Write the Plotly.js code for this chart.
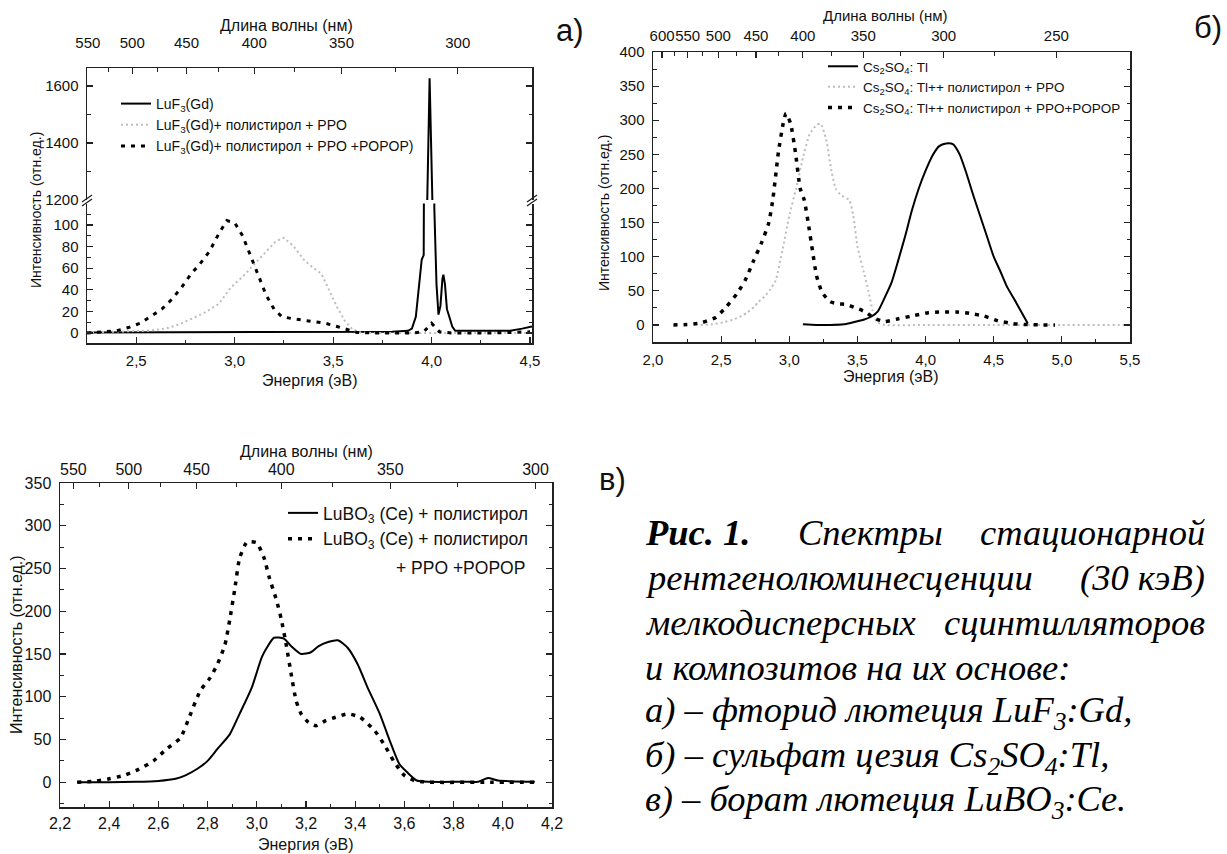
<!DOCTYPE html>
<html>
<head>
<meta charset="utf-8">
<script src="https://cdn.plot.ly/plotly-3.0.1.min.js"></script>
<style>
  html, body { margin: 0; padding: 0; background: #fff; }
  #chart { width: 1227px; height: 854px; }
</style>
</head>
<body>
<div id="chart"></div>
<script>
// ---------- Panel а: LuF3:Gd ----------
const eA_LuF3 = [2.25, 2.50, 3.00, 3.50, 3.80, 3.88, 3.90, 3.92, 3.94, 3.95, 3.96, 3.969, 3.978, 3.990, 4.004, 4.014, 4.025, 4.035, 4.045, 4.055, 4.060, 4.068, 4.078, 4.090, 4.105, 4.120, 4.30, 4.40, 4.46, 4.51];
const iA_LuF3 = [0.5, 0.5, 0.8, 0.8, 1, 2, 4, 15, 55, 68, 72, 115, 1200, 1627, 1200, 115, 45, 17, 25, 50, 54, 45, 22, 15, 6, 2, 2, 2, 4, 6];

const eA_PPO = [2.25, 2.40, 2.55, 2.65, 2.72, 2.78, 2.85, 2.92, 2.98, 3.04, 3.10, 3.16, 3.21, 3.25, 3.30, 3.35, 3.40, 3.44, 3.48, 3.52, 3.56, 3.60, 3.64, 3.70, 4.00, 4.50];
const iA_PPO = [0.5, 1, 2, 4, 8, 13, 19, 27, 42, 52, 64, 76, 85, 88, 80, 68, 60, 55, 40, 24, 11, 3, 0.5, 0, 0, 0];

const eA_POPOP = [2.25, 2.30, 2.40, 2.46, 2.52, 2.58, 2.63, 2.68, 2.73, 2.78, 2.82, 2.87, 2.92, 2.96, 3.00, 3.04, 3.08, 3.12, 3.16, 3.20, 3.24, 3.30, 3.38, 3.46, 3.52, 3.57, 3.62, 3.70, 3.90, 3.96, 4.00, 4.04, 4.10, 4.30, 4.50];
const iA_POPOP = [0, 0.5, 2, 5, 9, 16, 22, 31, 42, 55, 63, 75, 92, 104, 102, 90, 72, 53, 35, 22, 15, 13, 11, 9, 6, 3, 0.5, 0, 0, 1, 9, 1, 0, 0, 1];

// ---------- Panel б: Cs2SO4:Tl ----------
const eB_Tl = [3.10, 3.20, 3.30, 3.40, 3.47, 3.55, 3.60, 3.65, 3.70, 3.75, 3.80, 3.85, 3.90, 3.95, 4.00, 4.05, 4.10, 4.15, 4.20, 4.25, 4.30, 4.35, 4.40, 4.45, 4.50, 4.55, 4.60, 4.65, 4.70, 4.75];
const iB_Tl = [1, 0, 0, 1, 4, 8, 12, 20, 40, 62, 95, 130, 168, 200, 226, 248, 262, 266, 265, 250, 222, 190, 160, 130, 100, 78, 55, 38, 20, 2];

const eB_PPO = [2.35, 2.44, 2.52, 2.59, 2.65, 2.69, 2.74, 2.77, 2.82, 2.86, 2.90, 2.95, 3.00, 3.05, 3.10, 3.15, 3.20, 3.23, 3.27, 3.31, 3.34, 3.38, 3.44, 3.47, 3.50, 3.55, 3.58, 3.61, 3.64, 3.70, 4.00, 4.50, 5.00, 5.50];
const iB_PPO = [0, 1, 4, 8, 13, 18, 26, 33, 42, 52, 65, 110, 160, 200, 245, 280, 293, 295, 272, 225, 200, 190, 183, 160, 115, 75, 50, 22, 5, 0, 0, 0, 0, 0];

const eB_POPOP = [2.15, 2.25, 2.35, 2.46, 2.54, 2.62, 2.68, 2.74, 2.80, 2.85, 2.88, 2.92, 2.955, 2.976, 3.01, 3.045, 3.08, 3.11, 3.14, 3.17, 3.20, 3.24, 3.30, 3.36, 3.42, 3.50, 3.56, 3.62, 3.70, 3.80, 3.92, 4.02, 4.12, 4.23, 4.32, 4.43, 4.53, 4.64, 4.75, 4.85, 4.95];
const iB_POPOP = [0, 0.5, 3, 11, 27, 47, 67, 95, 122, 150, 185, 253, 295, 310, 295, 253, 200, 183, 148, 109, 72, 48, 34, 31, 30, 24, 19, 10, 5, 9, 14, 18, 19, 19, 17, 13, 6, 2, 0.5, 0, 0];

// ---------- Panel в: LuBO3:Ce ----------
const eC_PS = [2.27, 2.40, 2.51, 2.60, 2.67, 2.71, 2.76, 2.80, 2.84, 2.89, 2.93, 2.98, 3.02, 3.04, 3.07, 3.11, 3.14, 3.18, 3.22, 3.25, 3.29, 3.33, 3.37, 3.41, 3.45, 3.50, 3.54, 3.58, 3.61, 3.65, 3.70, 3.84, 3.90, 3.94, 3.98, 4.13];
const iC_PS = [0, 0, 0.4, 1.5, 4, 8, 16, 25, 39, 56, 80, 111, 146, 157, 169, 168, 159, 150, 152, 159, 164, 166, 157, 138, 111, 80, 49, 21, 12, 2, 0.5, 0.5, 0.5, 5, 2, 0.5];

const eC_POPOP = [2.27, 2.34, 2.40, 2.46, 2.52, 2.58, 2.63, 2.69, 2.72, 2.77, 2.81, 2.84, 2.87, 2.89, 2.91, 2.93, 2.96, 3.00, 3.03, 3.05, 3.08, 3.10, 3.12, 3.14, 3.16, 3.18, 3.21, 3.24, 3.28, 3.32, 3.37, 3.42, 3.48, 3.52, 3.56, 3.60, 3.64, 3.70, 3.95, 4.13];
const iC_POPOP = [0, 1, 4, 8, 15, 25, 38, 52, 72, 107, 122, 138, 160, 190, 225, 262, 281, 280, 262, 240, 213, 190, 160, 126, 95, 80, 70, 66, 72, 76, 80, 76, 60, 43, 23, 8, 2, 0, 0, 0];

// Wavelength scale (top axes), nm
const nmA = [550, 500, 450, 400, 350, 300];
const nmA_minor = [525, 475, 425, 375, 325];
const nmB = [600, 550, 500, 450, 400, 350, 300, 250];
const nmB_minor = [575, 525, 475, 425, 375, 325, 275];
const nmC = [550, 500, 450, 400, 350, 300];
const nmC_minor = [525, 475, 425, 375, 325];

// Legend names
const namesA = ['LuF<sub>3</sub>(Gd)', 'LuF<sub>3</sub>(Gd)+ полистирол + PPO', 'LuF<sub>3</sub>(Gd)+ полистирол + PPO +POPOP)'];
const namesB = ['Cs<sub>2</sub>SO<sub>4</sub>: Tl', 'Cs<sub>2</sub>SO<sub>4</sub>: Tl++ полистирол + PPO', 'Cs<sub>2</sub>SO<sub>4</sub>: Tl++ полистирол + PPO+POPOP'];
const namesC = ['LuBO<sub>3</sub> (Ce) + полистирол', 'LuBO<sub>3</sub> (Ce) + полистирол'];

// ---------- helpers ----------
const W = 1227, H = 854;
const HC = 1239.84;               // eV·nm
const SANS = '"Liberation Sans", Arial, sans-serif';
const SERIF = '"Liberation Serif", "Times New Roman", serif';
const px = v => v / W;
const py = v => 1 - v / H;
const toEV = arr => arr.map(l => HC / l);

const SOLID = { color: '#000', width: 2 };
const GREY = { color: '#bdbdbd', width: 2, dash: '2px,3px' };
const DASH = { color: '#000', width: 3.5, dash: '4px,6px' };

function bottomAxis(dom, anchor, range, dtick, minorDtick, size, standoff) {
  return {
    domain: dom, anchor: anchor, range: range, dtick: dtick, tick0: 0,
    tickformat: '.1f', showline: true, linecolor: '#222', linewidth: 1.5,
    ticks: 'inside', ticklen: 6, tickwidth: 1.2, tickcolor: '#222',
    minor: { dtick: minorDtick, tick0: 0, ticks: 'inside', ticklen: 3.5, tickwidth: 1, tickcolor: '#222' },
    showgrid: false, zeroline: false, mirror: false, fixedrange: true,
    tickfont: { family: SANS, size: size, color: '#111' }, ticklabelstandoff: standoff
  };
}
function topAxis(extra, nm, nmMinor, range, size, standoff) {
  return Object.assign({
    side: 'top', range: range, tickmode: 'array', tickangle: 0,
    tickvals: toEV(nm), ticktext: nm.map(String),
    showline: true, linecolor: '#222', linewidth: 1.5,
    ticks: 'inside', ticklen: 6, tickwidth: 1.2, tickcolor: '#222',
    minor: { tickmode: 'array', tickvals: toEV(nmMinor), ticks: 'inside', ticklen: 3.5, tickwidth: 1, tickcolor: '#222' },
    showgrid: false, zeroline: false, fixedrange: true,
    tickfont: { family: SANS, size: size, color: '#111' }, ticklabelstandoff: standoff
  }, extra);
}
function leftAxis(dom, anchor, range, dtick, minorDtick, size) {
  return {
    domain: dom, anchor: anchor, range: range, dtick: dtick, tick0: 0,
    showline: true, linecolor: '#222', linewidth: 1.5, mirror: 'ticks',
    ticks: 'inside', ticklen: 6, tickwidth: 1.2, tickcolor: '#222',
    minor: { dtick: minorDtick, tick0: 0, ticks: 'inside', ticklen: 3.5, tickwidth: 1, tickcolor: '#222' },
    showgrid: false, zeroline: false, fixedrange: true,
    tickfont: { family: SANS, size: size, color: '#111' }, ticklabelstandoff: 4
  };
}
function label(x, y, text, size, opts) {
  return Object.assign({
    xref: 'paper', yref: 'paper', x: px(x), y: py(y), text: text, showarrow: false,
    xanchor: 'center', yanchor: 'middle', font: { family: SANS, size: size, color: '#111' }
  }, opts || {});
}
function caption(x, y, text, anchor) {
  return label(x, y, text, 36.5, {
    xanchor: anchor || 'left',
    font: { family: SERIF, size: 36.5, color: '#000', style: 'italic' }
  });
}

// ---------- traces ----------
// Each top (wavelength) axis shares the energy range of its panel, so one
// series per panel is drawn against it; this keeps the top axis on screen.
const traces = [
  // а) lower part of the broken axis
  { x: eA_LuF3, y: iA_LuF3, xaxis: 'x', yaxis: 'y', mode: 'lines', line: SOLID, name: namesA[0], legend: 'legend' },
  { x: eA_PPO, y: iA_PPO, xaxis: 'x', yaxis: 'y', mode: 'lines', line: GREY, name: namesA[1], legend: 'legend' },
  { x: eA_POPOP, y: iA_POPOP, xaxis: 'x', yaxis: 'y', mode: 'lines', line: Object.assign({}, DASH, { width: 3 }), name: namesA[2], legend: 'legend' },
  // а) upper part of the broken axis (the LuF3 emission spike)
  { x: eA_LuF3, y: iA_LuF3, xaxis: 'x2', yaxis: 'y2', mode: 'lines', line: SOLID, showlegend: false, name: namesA[0] },

  // б)
  { x: eB_Tl, y: iB_Tl, xaxis: 'x4', yaxis: 'y3', mode: 'lines', line: Object.assign({ shape: 'spline', smoothing: 0.6 }, SOLID), name: namesB[0], legend: 'legend2' },
  { x: eB_PPO, y: iB_PPO, xaxis: 'x3', yaxis: 'y3', mode: 'lines', line: Object.assign({ shape: 'spline', smoothing: 0.5 }, GREY), name: namesB[1], legend: 'legend2' },
  { x: eB_POPOP, y: iB_POPOP, xaxis: 'x3', yaxis: 'y3', mode: 'lines', line: Object.assign({ shape: 'spline', smoothing: 0.5 }, DASH), name: namesB[2], legend: 'legend2' },

  // в)
  { x: eC_PS, y: iC_PS, xaxis: 'x6', yaxis: 'y5', mode: 'lines', line: Object.assign({ shape: 'spline', smoothing: 0.6 }, SOLID), name: namesC[0], legend: 'legend3' },
  { x: eC_POPOP, y: iC_POPOP, xaxis: 'x5', yaxis: 'y5', mode: 'lines', line: Object.assign({ shape: 'spline', smoothing: 0.5 }, DASH), name: namesC[1], legend: 'legend3' }
];

// ---------- layout ----------
const domXA = [px(87), px(532)];
const domXB = [px(653), px(1130)];
const domXC = [px(60), px(552)];

function legendAt(x, y, size) {
  return {
    x: px(x), y: py(y), xanchor: 'left', yanchor: 'top', bgcolor: 'rgba(0,0,0,0)',
    borderwidth: 0, itemwidth: 30, traceorder: 'normal', tracegroupgap: 0,
    font: { family: SANS, size: size, color: '#111' }, itemclick: false, itemdoubleclick: false
  };
}

const layout = {
  width: W, height: H, margin: { l: 0, r: 0, t: 0, b: 0 },
  paper_bgcolor: '#fff', plot_bgcolor: '#fff',
  separators: ', ', showlegend: true,

  // а)
  xaxis: bottomAxis(domXA, 'y', [2.25, 4.51], 0.5, 0.25, 15, 3),
  yaxis: leftAxis([py(343), py(203.5)], 'x', [-9.3, 119.8], 20, 10, 15),
  xaxis2: topAxis({ domain: domXA, anchor: 'y2' }, nmA, nmA_minor, [2.25, 4.51], 15, 13),
  yaxis2: leftAxis([py(200), py(68)], 'x2', [1200, 1663], 200, 100, 15),

  // б)
  xaxis3: bottomAxis(domXB, 'y3', [2.0, 5.5], 0.5, 0.25, 15, 3),
  yaxis3: leftAxis([py(342), py(52)], 'x3', [-25, 400], 50, 25, 15),
  xaxis4: topAxis({ overlaying: 'x3', anchor: 'y3' }, nmB, nmB_minor, [2.0, 5.5], 15, 4),

  // в)
  xaxis5: bottomAxis(domXC, 'y5', [2.2, 4.2], 0.2, 0.1, 16, 1),
  yaxis5: leftAxis([py(807), py(483)], 'x5', [-29, 350], 50, 25, 16),
  xaxis6: topAxis({ overlaying: 'x5', anchor: 'y5' }, nmC, nmC_minor, [2.2, 4.2], 16, 0),

  legend: legendAt(116, 88, 14),
  legend2: legendAt(823, 51, 13.5),
  legend3: legendAt(283, 495, 17.5),

  // axis-break marks on panel а)
  shapes: [
    { type: 'line', xref: 'paper', yref: 'paper', x0: px(82), y0: py(206), x1: px(92), y1: py(199), line: { color: '#222', width: 1.3 } },
    { type: 'line', xref: 'paper', yref: 'paper', x0: px(82), y0: py(202), x1: px(92), y1: py(195), line: { color: '#222', width: 1.3 } },
    { type: 'line', xref: 'paper', yref: 'paper', x0: px(527), y0: py(206), x1: px(537), y1: py(199), line: { color: '#222', width: 1.3 } },
    { type: 'line', xref: 'paper', yref: 'paper', x0: px(527), y0: py(202), x1: px(537), y1: py(195), line: { color: '#222', width: 1.3 } }
  ],

  annotations: [
    // axis titles
    label(286, 25, 'Длина волны (нм)', 16),
    label(310, 380, 'Энергия (эВ)', 16),
    label(36, 210, 'Интенсивность (отн.ед.)', 14, { textangle: -90 }),
    label(885, 15, 'Длина волны (нм)', 15),
    label(891, 377, 'Энергия (эВ)', 16),
    label(604, 213, 'Интенсивность (отн.ед.)', 14, { textangle: -90 }),
    label(306, 451, 'Длина волны (нм)', 16),
    label(306, 844, 'Энергия (эВ)', 16),
    label(16, 645, 'Интенсивность (отн.ед.)', 16, { textangle: -90 }),
    // continuation of the second legend entry in panel в)
    label(527, 568, '+ PPO +POPOP', 17.5, { xanchor: 'right' }),
    // panel letters
    label(570, 30, 'а)', 31),
    label(1208, 27, 'б)', 31),
    label(612, 480, 'в)', 31),
    // figure caption
    caption(643, 532, '<b>Рис. 1.</b>'),
    caption(796, 532, 'Спектры'),
    caption(1207, 532, 'стационарной', 'right'),
    caption(643, 577, 'рентгенолюминесценции'),
    caption(1207, 577, '(30 кэВ)', 'right'),
    caption(643, 622, 'мелкодисперсных'),
    caption(1207, 622, 'сцинтилляторов', 'right'),
    caption(643, 667, 'и композитов на их основе:'),
    caption(643, 712, 'а) – фторид лютеция LuF<sub>3</sub>:Gd,'),
    caption(643, 757, 'б) – сульфат цезия Cs<sub>2</sub>SO<sub>4</sub>:Tl,'),
    caption(643, 801, 'в) – борат лютеция LuBO<sub>3</sub>:Ce.')
  ]
};

Plotly.newPlot('chart', traces, layout, { displayModeBar: false, staticPlot: true });
</script>
</body>
</html>
